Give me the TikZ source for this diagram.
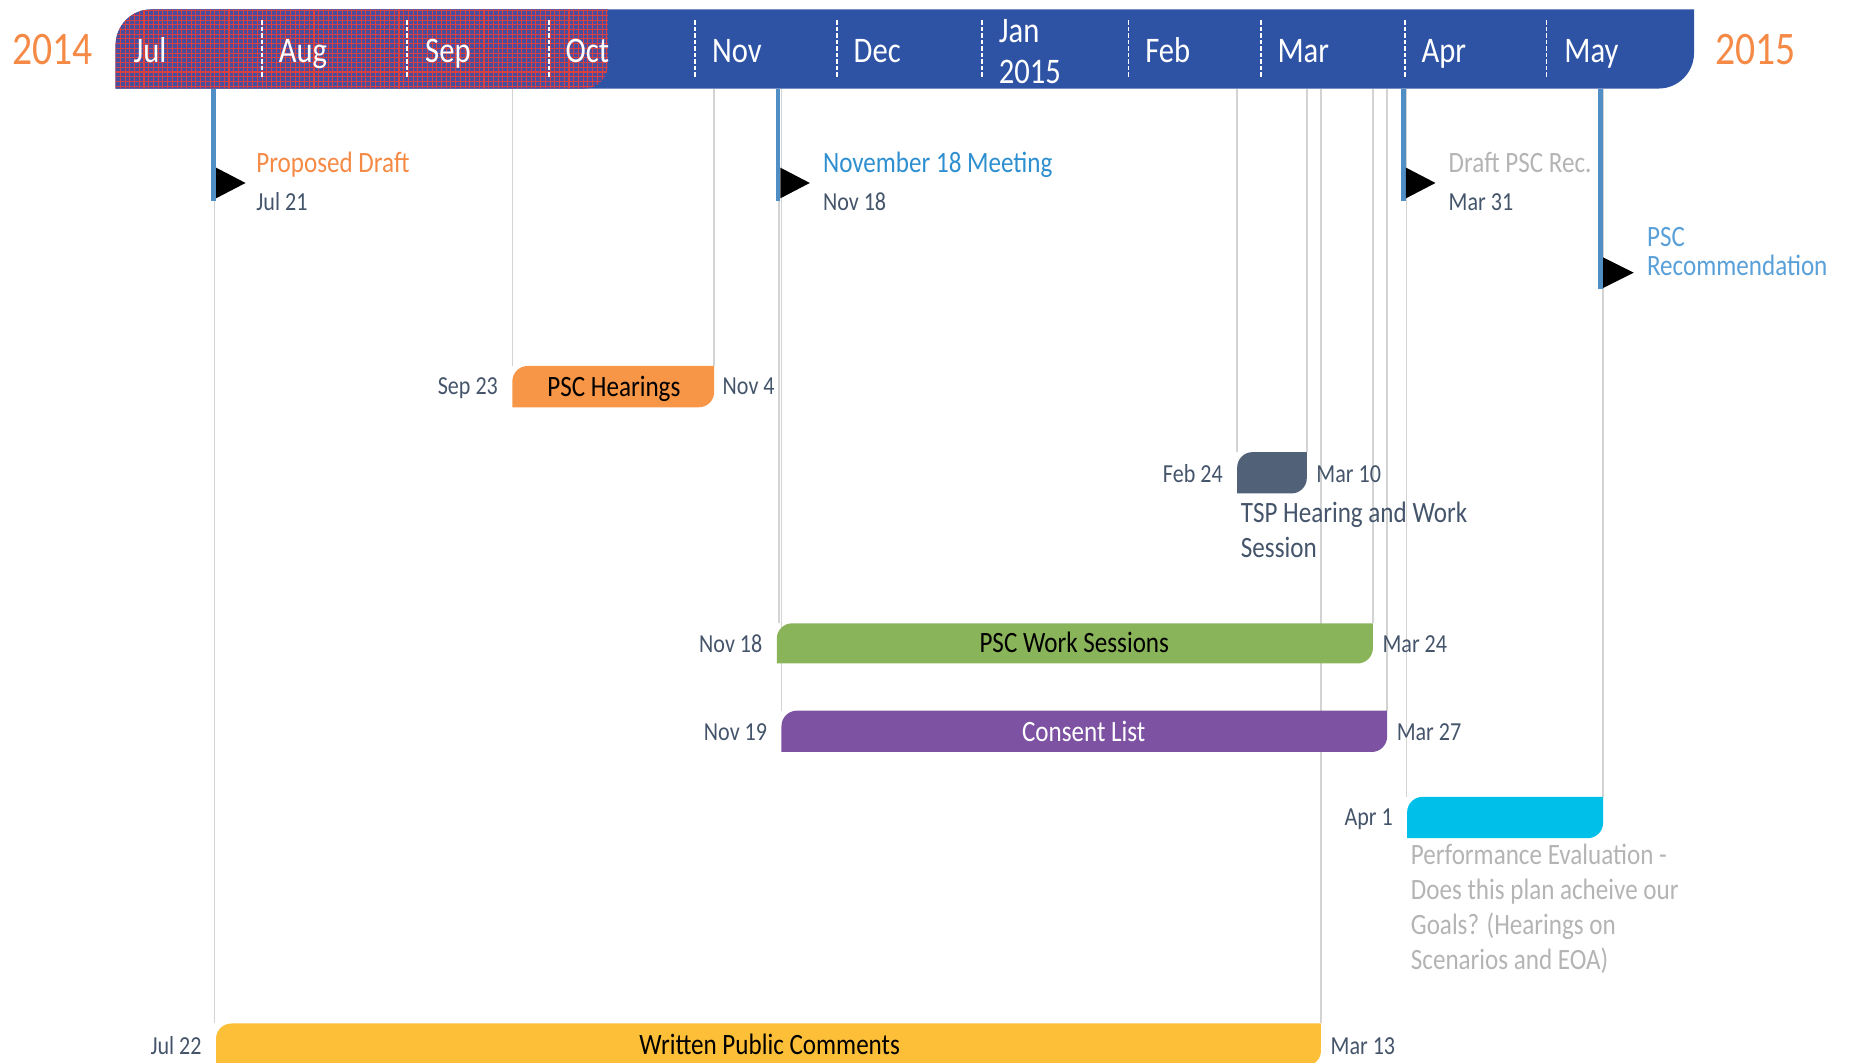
\documentclass[tikz,border=0pt]{standalone}
\usepackage{fontspec}
\setmainfont{Carlito}[FakeStretch=0.85]
\definecolor{topblue}{HTML}{2E53A5}
\definecolor{hatchbase}{HTML}{4A4C9E}
\definecolor{hatchred}{HTML}{D8413F}
\definecolor{orng}{HTML}{F58A46}
\definecolor{datec}{HTML}{44546A}
\definecolor{msblue}{HTML}{4F8FC6}
\definecolor{novblue}{HTML}{2E8FD0}
\definecolor{pscblue}{HTML}{5AA0D8}
\definecolor{lgray}{HTML}{B4B4B4}
\definecolor{gline}{HTML}{D3D3D3}
\definecolor{hearorange}{HTML}{F79646}
\definecolor{tspslate}{HTML}{506178}
\definecolor{workgreen}{HTML}{8AB45A}
\definecolor{consentpurple}{HTML}{7E52A2}
\definecolor{aprcyan}{HTML}{00BFE8}
\definecolor{wpcyellow}{HTML}{FDBF38}
\newcommand\roundpath[7]{% x1 y1 x2 y2 r-topleft r-bottomright style
 \path[#7] (#1,#4) -- (#1,{#2+#5}) .. controls (#1,{#2+0.448*#5}) and ({#1+0.448*#5},#2) .. ({#1+#5},#2) -- (#3,#2) -- (#3,{#4-#6}) .. controls (#3,{#4-0.448*#6}) and ({#3-0.448*#6},#4) .. ({#3-#6},#4) -- cycle;}
\tikzset{
 txt/.style={inner sep=0pt, font=\fontsize{25}{30}\selectfont},
 dt/.style={inner sep=0pt, font=\fontsize{22}{26}\selectfont, text=datec},
 mon/.style={inner sep=0pt, font=\fontsize{30.5}{36}\selectfont, text=white},
 yr/.style={inner sep=0pt, font=\fontsize{39.5}{46}\selectfont, text=orng},
 gl/.style={draw=gline, line width=1.2pt},
 ms/.style={draw=msblue, line width=4pt},
 sep/.style={draw=white, line width=1.5pt, dash pattern=on 4pt off 1.5pt},
 tri/.style={fill=black},
}
\begin{document}
\begin{tikzpicture}[x=1pt,y=-1pt]
\useasboundingbox (0,0) rectangle (1568,900);
% timeline anchor coordinates
\coordinate (tJul21) at (181.5,75);
\coordinate (tSep23) at (434,75);
\coordinate (tNov4) at (605,75);
\coordinate (tNov18) at (660,75);
\coordinate (tNov19) at (662,75);
\coordinate (tFeb24) at (1048,75);
\coordinate (tMar10) at (1107,75);
\coordinate (tMar13) at (1119,75);
\coordinate (tMar24) at (1163,75);
\coordinate (tMar27) at (1175,75);
\coordinate (tApr1) at (1191.5,75);
\coordinate (tMay) at (1358,75);
\coordinate (eJul22) at (181.5,867);
\coordinate (eSep23) at (434,310);
\coordinate (eNov4) at (605,310);
\coordinate (eNov18) at (660,528);
\coordinate (eNov19) at (662,602);
\coordinate (eFeb24) at (1048,383);
\coordinate (eMar10) at (1107,383);
\coordinate (eMar13) at (1119,867);
\coordinate (eMar24) at (1163,528);
\coordinate (eMar27) at (1175,602);
\coordinate (eApr1) at (1191.5,675);
\coordinate (eMay) at (1358,675);
% gray guide lines
\draw[gl] (tJul21) -- (eJul22);
\draw[gl] (tSep23) -- (eSep23);
\draw[gl] (tNov4) -- (eNov4);
\draw[gl] (tNov18) -- (eNov18);
\draw[gl] (tNov19) -- (eNov19);
\draw[gl] (tFeb24) -- (eFeb24);
\draw[gl] (tMar10) -- (eMar10);
\draw[gl] (tMar13) -- (eMar13);
\draw[gl] (tMar24) -- (eMar24);
\draw[gl] (tMar27) -- (eMar27);
\draw[gl] (tApr1) -- (eApr1);
\draw[gl] (tMay) -- (eMay);
% top bar
\roundpath{98}{8}{1435}{75}{30}{30}{fill=topblue}
\begin{scope}
\roundpath{98}{8}{515}{75}{30}{20}{clip}
\fill[hatchbase] (90,0) rectangle (520,80);
\foreach \gx in {98,102,...,520} \draw[hatchred, line width=0.9pt] (\gx,0) -- (\gx,80);
\foreach \gy in {9,13,...,80} \draw[hatchred, line width=0.9pt] (90,\gy) -- (520,\gy);
\end{scope}
\foreach \sx in {222,345,465,589,709,832,956,1068,1190,1310} \draw[sep] (\sx,17) -- (\sx,65);
\node[mon, anchor=base west] (mJul) at (113,53) {Jul};
\node[mon, anchor=base west] (mAug) at (236,53) {Aug};
\node[mon, anchor=base west] (mSep) at (360,53) {Sep};
\node[mon, anchor=base west] (mOct) at (479,53) {Oct};
\node[mon, anchor=base west] (mNov) at (603,53) {Nov};
\node[mon, anchor=base west] (mDec) at (723,53) {Dec};
\node[mon, anchor=base west] (mJan) at (846,36) {Jan};
\node[mon, anchor=base west] (mJanY) at (846,71) {2015};
\node[mon, anchor=base west] (mFeb) at (970,53) {Feb};
\node[mon, anchor=base west] (mMar) at (1082,53) {Mar};
\node[mon, anchor=base west] (mApr) at (1204,53) {Apr};
\node[mon, anchor=base west] (mMay) at (1325,53) {May};
\node[yr, anchor=base west] (y2014) at (10,55) {2014};
\node[yr, anchor=base west] (y2015) at (1453,55) {2015};
% milestones
\coordinate (b1) at (181,170);
\coordinate (b2) at (659,170);
\coordinate (b3) at (1189,170);
\coordinate (b4) at (1356,245);
\draw[ms] (181,75) -- (b1);
\draw[ms] (659,75) -- (b2);
\draw[ms] (1189,75) -- (b3);
\draw[ms] (1356,75) -- (b4);
\fill[tri] (183,142) -- (208,155) -- (183,168) -- cycle;
\fill[tri] (661,142) -- (686,155) -- (661,168) -- cycle;
\fill[tri] (1191,142) -- (1216,155) -- (1191,168) -- cycle;
\fill[tri] (1358,218) -- (1384,231) -- (1358,244) -- cycle;
\node[txt, text=orng, anchor=base west] (pd) at (217,146) {Proposed Draft};
\node[dt, anchor=base west] (pdd) at (217,178) {Jul 21};
\node[txt, text=novblue, anchor=base west] (nm) at (697,146) {November 18 Meeting};
\node[dt, anchor=base west] (nmd) at (697,178) {Nov 18};
\node[txt, text=lgray, anchor=base west] (dr) at (1227,146) {Draft PSC Rec.};
\node[dt, anchor=base west] (drd) at (1227,178) {Mar 31};
\node[txt, text=pscblue, anchor=base west] (pr1) at (1395,209) {PSC};
\node[txt, text=pscblue, anchor=base west] (pr2) at (1395,233) {Recommendation};
% bars
\roundpath{434}{310}{605}{345}{13}{13}{fill=hearorange}
\node[txt, anchor=base] (hear) at (520,336) {PSC Hearings};
\node[dt, anchor=base east] (hear1) at (422,334) {Sep 23};
\node[dt, anchor=base west] (hear2) at (612,334) {Nov 4};
\roundpath{1048}{383}{1107}{418}{13}{13}{fill=tspslate}
\node[dt, anchor=base east] (tsp1) at (1036,409) {Feb 24};
\node[dt, anchor=base west] (tsp2) at (1115,409) {Mar 10};
\node[txt, text=datec, anchor=base west] (tspa) at (1051,443) {TSP Hearing and Work};
\node[txt, text=datec, anchor=base west] (tspb) at (1051,472) {Session};
\roundpath{658}{528}{1163}{562}{13}{13}{fill=workgreen}
\node[txt, anchor=base] (work) at (910,553) {PSC Work Sessions};
\node[dt, anchor=base east] (work1) at (646,553) {Nov 18};
\node[dt, anchor=base west] (work2) at (1171,553) {Mar 24};
\roundpath{662}{602}{1175}{637}{13}{13}{fill=consentpurple}
\node[txt, text=white, anchor=base] (cons) at (918,628) {Consent List};
\node[dt, anchor=base east] (cons1) at (650,627) {Nov 19};
\node[dt, anchor=base west] (cons2) at (1183,627) {Mar 27};
\roundpath{1192}{675}{1358}{710}{13}{13}{fill=aprcyan}
\node[dt, anchor=base east] (apr1) at (1180,699) {Apr 1};
\node[txt, text=lgray, anchor=base west] (pe1) at (1195,732) {Performance Evaluation -};
\node[txt, text=lgray, anchor=base west] (pe2) at (1195,762) {Does this plan acheive our};
\node[txt, text=lgray, anchor=base west] (pe3) at (1195,792) {Goals? (Hearings on};
\node[txt, text=lgray, anchor=base west] (pe4) at (1195,821) {Scenarios and EOA)};
\roundpath{183}{867}{1119}{903}{13}{13}{fill=wpcyellow}
\node[txt, anchor=base] (wpc) at (652,893) {Written Public Comments};
\node[dt, anchor=base east] (wpc1) at (171,893) {Jul 22};
\node[dt, anchor=base west] (wpc2) at (1127,893) {Mar 13};
\end{tikzpicture}
\end{document}
